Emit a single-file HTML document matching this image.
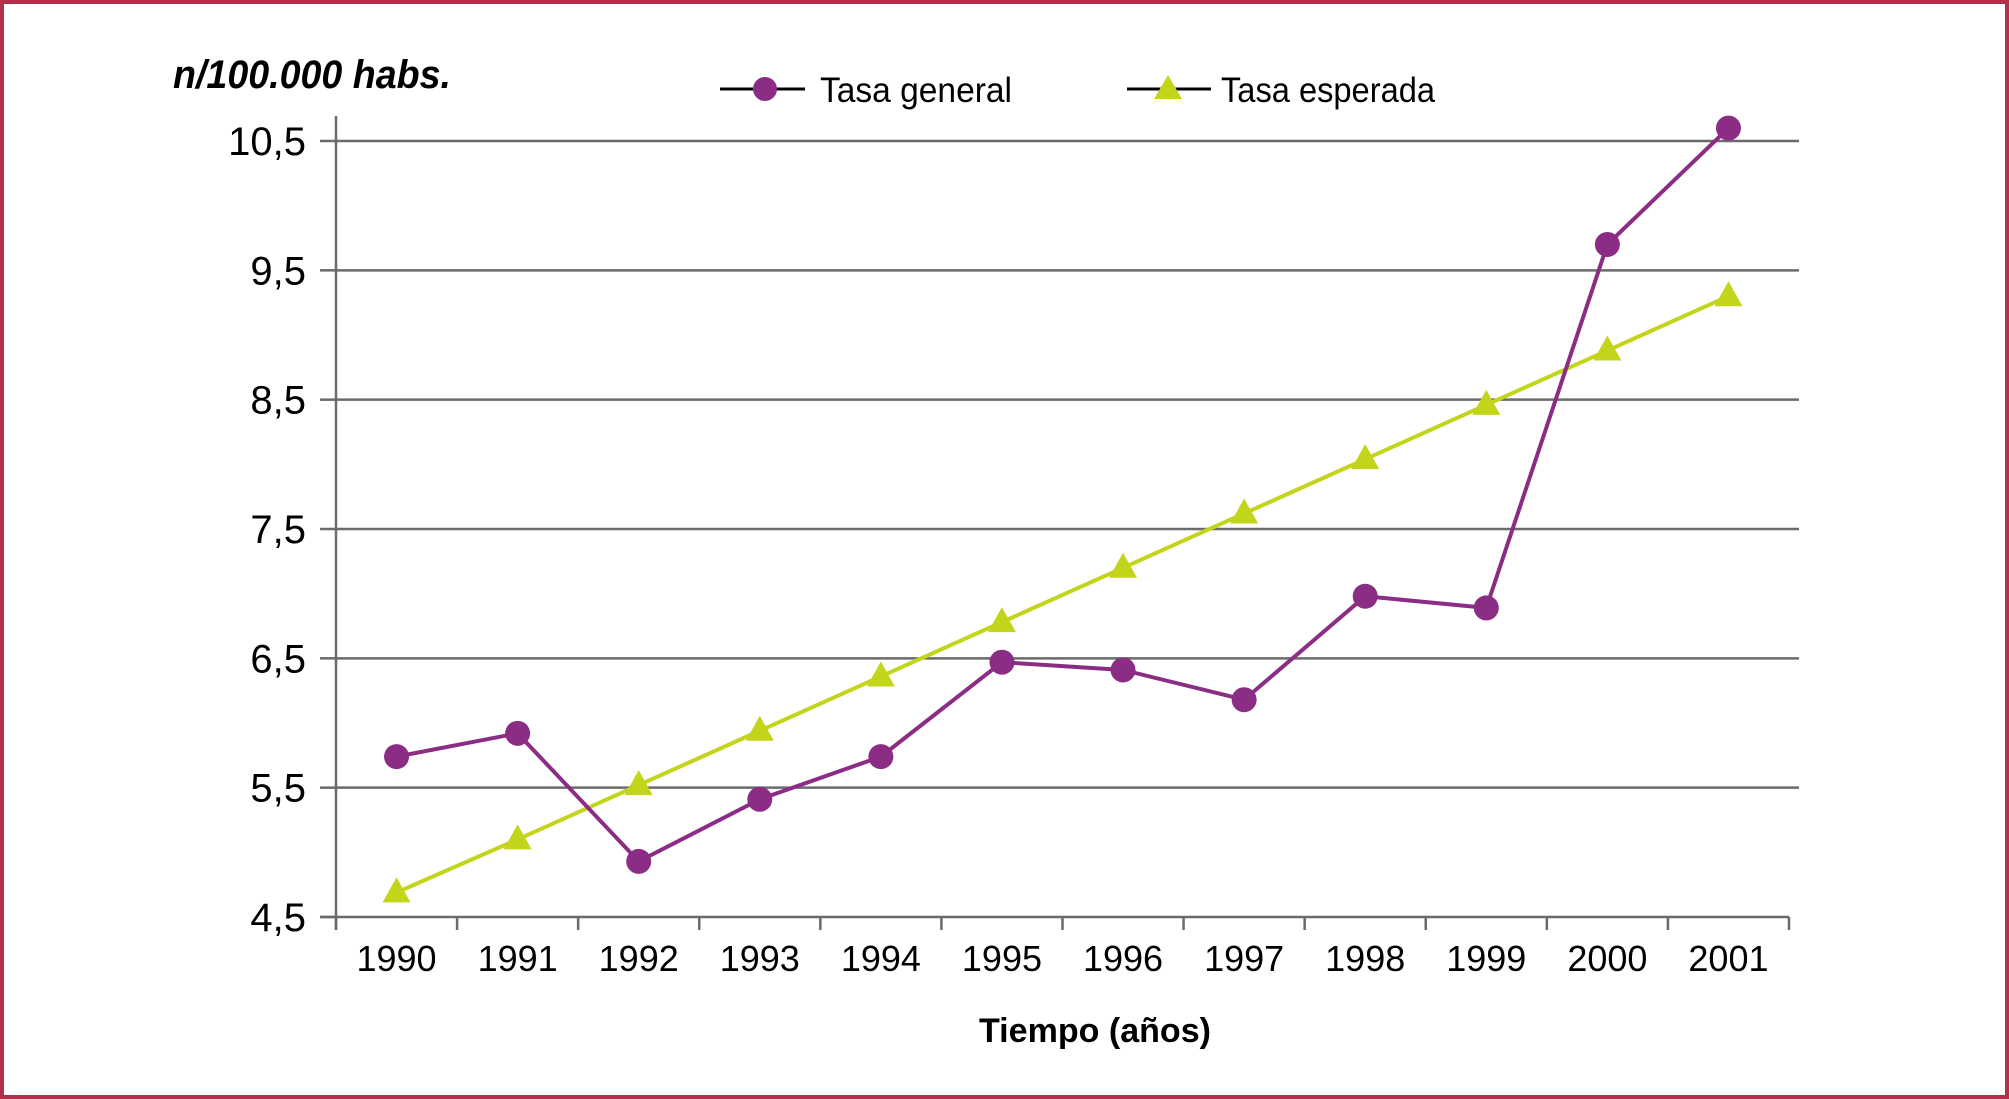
<!DOCTYPE html>
<html><head><meta charset="utf-8"><style>
html,body{margin:0;padding:0;background:#fff;}
svg{display:block;font-family:"Liberation Sans",sans-serif;}
</style></head><body>
<svg id="chart" width="2009" height="1099" viewBox="0 0 2009 1099">
<rect x="2" y="2" width="2005" height="1095" fill="#fff" stroke="#b3304b" stroke-width="4"/>
<text x="173" y="88" font-size="40" font-weight="bold" font-style="italic" textLength="278" lengthAdjust="spacingAndGlyphs">n/100.000 habs.</text>
<g>
<g>
<line x1="720" y1="89" x2="805" y2="89" stroke="#000" stroke-width="3"/>
<circle cx="765" cy="89" r="12" fill="#8b2d84"/>
<text x="820" y="102" font-size="35" textLength="192" lengthAdjust="spacingAndGlyphs">Tasa general</text>
</g>
<g>
<line x1="1127" y1="89" x2="1211" y2="89" stroke="#000" stroke-width="3"/>
<polygon points="1168,75 1182,99 1154,99" fill="#c3d51a"/>
<text x="1221" y="102" font-size="35" textLength="214" lengthAdjust="spacingAndGlyphs">Tasa esperada</text>
</g>
</g>
<g id="grid"></g><g id="axes"></g><g id="series"></g>
<text x="1095" y="1042" font-size="34" font-weight="bold" text-anchor="middle" textLength="232" lengthAdjust="spacingAndGlyphs">Tiempo (años)</text>
</svg>
<script>
const categories = ["1990","1991","1992","1993","1994","1995","1996","1997","1998","1999","2000","2001"];
const tasaGeneral = [5.74,5.92,4.93,5.41,5.74,6.47,6.41,6.18,6.98,6.89,9.70,10.60];
const tasaEsperada = [4.69,5.10,5.52,5.94,6.36,6.78,7.20,7.62,8.04,8.46,8.88,9.30];
const yTicks = [4.5,5.5,6.5,7.5,8.5,9.5,10.5];
const yTickLabels = ["4,5","5,5","6,5","7,5","8,5","9,5","10,5"];

const NS="http://www.w3.org/2000/svg";
const X0=336,X1=1789,GR=1799,Y0=917,Y1=141,YMIN=4.5,YMAX=10.5;
const band=(X1-X0)/categories.length;
const xPos=i=>X0+band*(i+0.5);
const yPos=v=>Y0-(v-YMIN)/(YMAX-YMIN)*(Y0-Y1);
function mk(tag,attrs,parent){const e=document.createElementNS(NS,tag);for(const k in attrs)e.setAttribute(k,attrs[k]);parent.appendChild(e);return e;}
const grid=document.getElementById('grid'),axes=document.getElementById('axes'),series=document.getElementById('series');
yTicks.forEach((t,i)=>{
  const y=yPos(t);
  if(i>0){const g=mk('line',{x1:X0,y1:y,x2:GR,y2:y,stroke:'#6b6b6b','stroke-width':2.5},grid);
  
  }
  const tk=mk('line',{x1:320,y1:y,x2:X0,y2:y,stroke:'#6b6b6b','stroke-width':2.5},axes);
  
  
  const tx=mk('text',{x:306,y:y+14,'font-size':40,'text-anchor':'end'},axes);
  tx.textContent=yTickLabels[i];
  
  
});
const ya=mk('line',{x1:X0,y1:Y1-25,x2:X0,y2:Y0+13,stroke:'#6b6b6b','stroke-width':2.5},axes);


const xa=mk('line',{x1:320,y1:Y0,x2:X1,y2:Y0,stroke:'#6b6b6b','stroke-width':2.5},axes);


for(let i=0;i<=categories.length;i++){
  const x=X0+band*i;
  const t=mk('line',{x1:x,y1:Y0,x2:x,y2:Y0+13,stroke:'#6b6b6b','stroke-width':2.5},axes);
  
  
}
categories.forEach((c,i)=>{
  const t=mk('text',{x:xPos(i),y:971,'font-size':36,'text-anchor':'middle'},axes);
  t.textContent=c;
  
  
});
const pe=mk('polyline',{points:tasaEsperada.map((v,i)=>xPos(i)+','+yPos(v)).join(' '),fill:'none',stroke:'#c3d51a','stroke-width':4},series);


const pg=mk('polyline',{points:tasaGeneral.map((v,i)=>xPos(i)+','+yPos(v)).join(' '),fill:'none',stroke:'#8b2d84','stroke-width':4},series);


tasaEsperada.forEach((v,i)=>{
  const x=xPos(i),y=yPos(v);
  const p=mk('polygon',{points:`${x},${y-15} ${x+14},${y+10} ${x-14},${y+10}`,fill:'#c3d51a'},series);
  
  
});
tasaGeneral.forEach((v,i)=>{
  const c=mk('circle',{cx:xPos(i),cy:yPos(v),r:12.5,fill:'#8b2d84'},series);
  
  
});
</script>
</body></html>
